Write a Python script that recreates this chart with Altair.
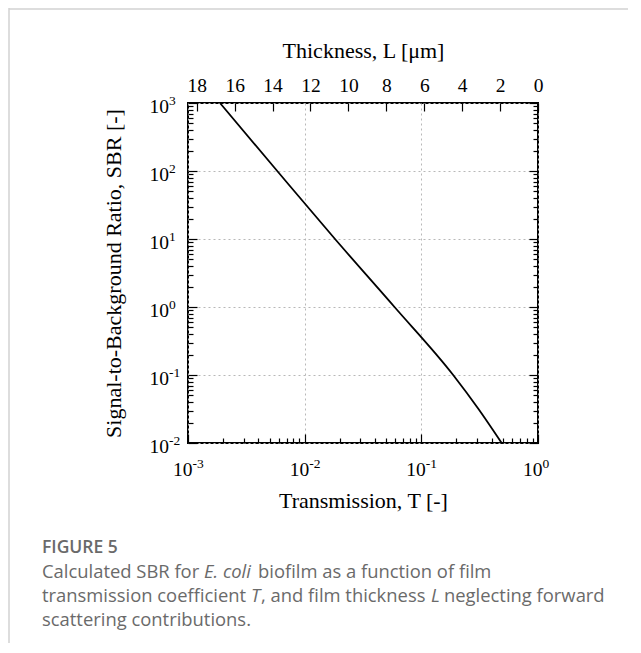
import altair as alt
import pandas as pd

# ---------------- data ----------------
transmission = [0.00188, 0.00582, 0.0182, 0.0589, 0.1875, 0.309, 0.488]
sbr = [1000, 100, 10, 1, 0.1, 0.0316, 0.01]

x_decades = [0.001, 0.01, 0.1, 1]
y_decades = [0.01, 0.1, 1, 10, 100, 1000]
x_minor = [m * 10.0 ** e for e in (-3, -2, -1) for m in range(2, 10)]
y_minor = [m * 10.0 ** e for e in (-2, -1, 0, 1, 2) for m in range(2, 10)]
thickness_ticks = [0, 2, 4, 6, 8, 10, 12, 14, 16, 18]
decades_per_um = 0.1625  # top axis: log10(T) = -0.1625 * L
thickness_T = [10.0 ** (-decades_per_um * L) for L in thickness_ticks]

df = pd.DataFrame({"T": transmission, "SBR": sbr})
dummy = pd.DataFrame({"k": [0]})

W, H = 350, 340
SERIF = "Liberation Serif"
SANS = "Open Sans"
EXP = "'' + round(log(datum.value)/LN10)"
L_LABEL = f"'' + round(-log(datum.value)/(LN10*{decades_per_um}))"
LBL = 19.5   # tick-label size
SUPS = 13.5  # exponent size
TTL = 22     # axis-title size

xs = alt.Scale(type="log", domain=[0.001, 1], nice=False)
ys = alt.Scale(type="log", domain=[0.01, 1000], nice=False)


def tick_axis(orient, offset, values, size):
    return alt.Axis(orient=orient, offset=offset, values=values, ticks=True,
                    tickSize=size, tickColor="black", tickWidth=1.2,
                    labels=False, domain=False, grid=False)


common_lbl = dict(ticks=False, domain=False, labelFont=SERIF, labelColor="black",
                  labelFlush=False, labelOverlap=False, labelBaseline="alphabetic")
common_ttl = dict(titleFont=SERIF, titleFontSize=TTL, titleFontWeight="normal",
                  titleColor="black", titleBaseline="alphabetic")

line = alt.Chart(df).mark_line(color="black", strokeWidth=1.8, interpolate="monotone").encode(
    x=alt.X("T:Q", scale=xs, title="Transmission, T [-]",
            axis=alt.Axis(orient="bottom", values=x_decades, labelExpr="'10'",
                          grid=True, gridColor="#b8b8b8", gridDash=[2, 3], gridWidth=1,
                          labelFontSize=LBL, labelPadding=32, labelAlign="right",
                          labelOffset=4, titleY=64, **common_lbl, **common_ttl)),
    y=alt.Y("SBR:Q", scale=ys, title="Signal-to-Background Ratio, SBR [-]",
            axis=alt.Axis(orient="left", values=y_decades, labelExpr="'10'",
                          grid=True, gridColor="#b8b8b8", gridDash=[2, 3], gridWidth=1,
                          labelFontSize=LBL, labelPadding=19.5, labelAlign="right",
                          labelOffset=9, titleX=-68, **common_lbl, **common_ttl)),
)

base = alt.Chart(df).mark_line(opacity=0)

exponents = base.encode(
    x=alt.X("T:Q", scale=xs, title=None,
            axis=alt.Axis(orient="bottom", values=x_decades, labelExpr=EXP, grid=False,
                          labelFontSize=SUPS, labelPadding=24, labelAlign="left",
                          labelOffset=4, **common_lbl)),
    y=alt.Y("SBR:Q", scale=ys, title=None,
            axis=alt.Axis(orient="left", values=y_decades, labelExpr=EXP, grid=False,
                          labelFontSize=SUPS, labelPadding=19.5, labelAlign="left",
                          labelOffset=1, **common_lbl)),
)
minor_ticks = base.encode(
    x=alt.X("T:Q", scale=xs, title=None, axis=tick_axis("top", -H, x_minor, 5)),
    y=alt.Y("SBR:Q", scale=ys, title=None, axis=tick_axis("right", -W, y_minor, 5)),
)
major_ticks = base.encode(
    x=alt.X("T:Q", scale=xs, title=None, axis=tick_axis("top", -H, x_decades, 9)),
    y=alt.Y("SBR:Q", scale=ys, title=None, axis=tick_axis("right", -W, y_decades, 9)),
)
thick_ticks = base.encode(
    x=alt.X("T:Q", scale=xs, title=None, axis=tick_axis("bottom", -H, thickness_T, 8)),
    y=alt.Y("SBR:Q", scale=ys, title=None, axis=tick_axis("left", -W, y_minor, 5)),
)
thick_labels = base.encode(
    x=alt.X("T:Q", scale=xs, title="Thickness, L [μm]",
            axis=alt.Axis(orient="top", values=thickness_T, labelExpr=L_LABEL, grid=False,
                          labelFontSize=LBL, labelPadding=12, titleY=-46,
                          **common_lbl, **common_ttl)),
    y=alt.Y("SBR:Q", scale=ys, title=None, axis=tick_axis("left", -W, y_decades, 9)),
)

# ---------------- frame of the figure card and caption ----------------
border_v = alt.Chart(dummy).mark_rule(color="#d2d2d2", strokeWidth=1.5).encode(
    x=alt.value(-179), y=alt.value(-95), y2=alt.value(550))
border_h = alt.Chart(dummy).mark_rule(color="#d2d2d2", strokeWidth=1.5).encode(
    x=alt.value(-179), x2=alt.value(460), y=alt.value(-94))

X0 = -146
FS = 18.4
caption_segments = [
    # (x offset, baseline y, text, style, weight)
    (0, 450, "FIGURE 5", "normal", 600),
    (0, 474.5, "Calculated SBR for", "normal", 400),
    (162, 474.5, "E. coli", "italic", 400),
    (216, 474.5, "biofilm as a function of film", "normal", 400),
    (0, 498.5, "transmission coefficient", "normal", 400),
    (209, 498.5, "T", "italic", 400),
    (219, 498.5, ", and film thickness", "normal", 400),
    (389, 498.5, "L", "italic", 400),
    (402, 498.5, "neglecting forward", "normal", 400),
    (0, 522.5, "scattering contributions.", "normal", 400),
]
caption_layers = []
for dx, by, txt, style, weight in caption_segments:
    caption_layers.append(
        alt.Chart(dummy).mark_text(
            align="left", baseline="alphabetic", font=SANS,
            fontSize=17.5 if weight == 600 else FS, fontStyle=style,
            fontWeight=weight, color="#6a6a6a",
        ).encode(x=alt.value(X0 + dx), y=alt.value(by), text=alt.value(txt))
    )

chart = alt.layer(
    border_v, border_h, line, exponents, minor_ticks, major_ticks, thick_ticks,
    thick_labels, *caption_layers,
).resolve_axis(x="independent", y="independent").properties(
    width=W, height=H,
    autosize=alt.AutoSizeParams(type="none"),
    padding={"left": 180, "top": 95, "right": 90, "bottom": 200},
    background="white",
).configure_view(stroke="black", strokeWidth=2)

chart.save("out.html", embed_options={"renderer": "svg", "actions": False})
